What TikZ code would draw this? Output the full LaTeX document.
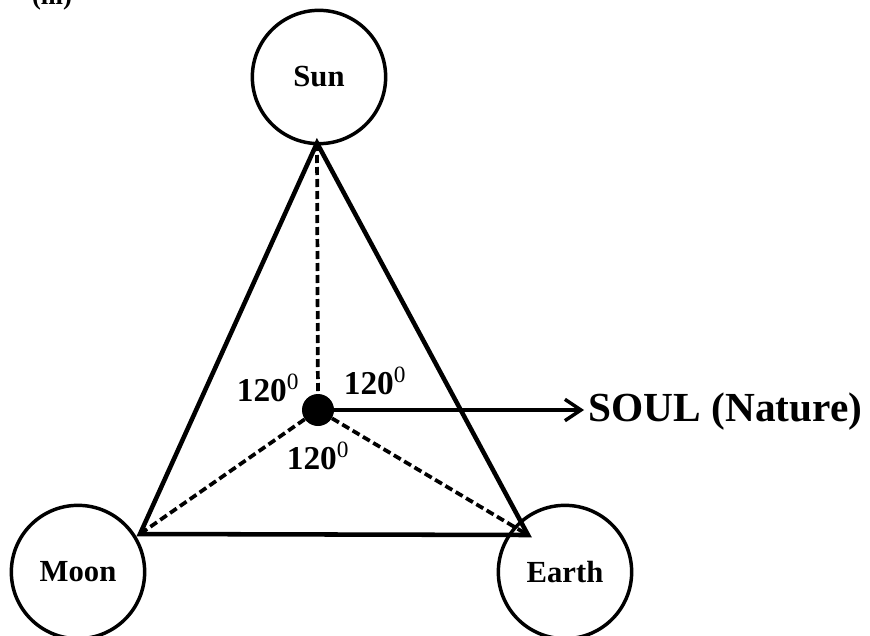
\documentclass[tikz,border=0pt]{standalone}
\usepackage{fontspec}
\setmainfont{Liberation Serif}
\usetikzlibrary{arrows.meta,positioning}

\begin{document}
\begin{tikzpicture}[x=0.75pt,y=-0.75pt,
  body/.style={draw,circle,line width=2.6pt,minimum size=100pt,inner sep=0pt,
    font=\fontsize{23}{26}\selectfont\bfseries},
  side/.style={line width=3.4pt},
  axis/.style={line width=2.8pt,dash pattern=on 6pt off 3pt},
  angle/.style={font=\fontsize{25}{28}\selectfont\bfseries}
]
  \useasboundingbox (0,0) rectangle (870,635);
  \node[font=\fontsize{20}{24}\selectfont\bfseries,anchor=base] at (52,5) {(iii)};
  % three bodies
  \node[body] (sun) at (319,77) {Sun};
  \node[body] (moon) at (78,572) {Moon};
  \node[body] (earth) at (565,572) {Earth};
  \coordinate (top) at (317,143);
  \coordinate (left) at (140,534);
  \coordinate (right) at (528,535);
  \node[circle,fill=black,minimum size=24pt,inner sep=0pt] (soul) at (318,410) {};
  % triangle
  \draw[side,line join=miter] (top) -- (left) -- (right) -- cycle;
  \draw[axis] (top) -- (soul);
  \draw[axis] (soul) -- (left);
  \draw[axis] (soul) -- (right);
  \node[angle] (a1) at (268,388) {120\textsuperscript{\mdseries 0}};
  \node[angle] (a2) at (375,381) {120\textsuperscript{\mdseries 0}};
  \node[angle] (a3) at (318,456) {120\textsuperscript{\mdseries 0}};
  % soul label
  \node[font=\fontsize{31}{36}\selectfont\bfseries,anchor=west] (nature) at (584,412) {SOUL (Nature)};
  \draw[line width=2.6pt,-{Straight Barb[length=12pt,width=16pt,line width=2.6pt]}] (soul.center) -- (soul -| nature.west);
\end{tikzpicture}
\end{document}
